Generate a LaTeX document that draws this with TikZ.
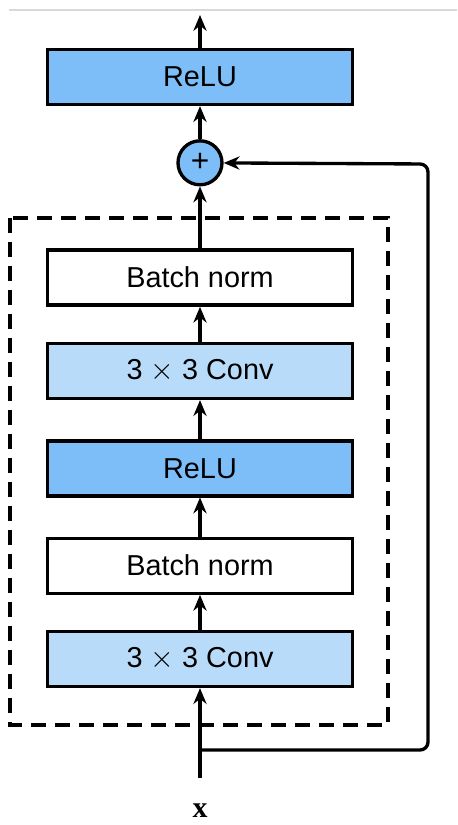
\documentclass[tikz,border=0pt]{standalone}
\usepackage{fontspec}
\setmainfont{Liberation Sans}
\newfontfamily\serifbold{Liberation Serif}
\usetikzlibrary{positioning,arrows.meta}
\definecolor{relublue}{HTML}{7DBEF8}
\definecolor{convblue}{HTML}{B9DBFA}
\tikzset{
  layer/.style={draw, line width=1.9pt, minimum width=6.1cm, minimum height=1.1cm,
    font=\fontsize{16.4}{20}\selectfont},
  conv/.style={layer, fill=convblue},
  relu/.style={layer, fill=relublue},
  norm/.style={layer, fill=white},
  addop/.style={draw, circle, line width=1.9pt, fill=relublue, minimum size=0.88cm,
    inner sep=0pt, font=\fontsize{18}{20}\selectfont},
}
\begin{document}
\begin{tikzpicture}[>={Stealth[length=9pt,width=7.5pt]}, line width=1.9pt]
\useasboundingbox (0,0) rectangle (9.14,-16.5);
\draw[black!15, line width=0.8pt](0.18,-0.2)--(9.14,-0.2);
% residual block
\draw[dash pattern=on 0.3cm off 0.18cm](0.2,-4.36) rectangle (7.76,-14.5);
\node[conv](conv1) at (4,-13.18) {3 $\times$ 3 Conv};
\node[norm, above=0.7cm of conv1](bn1) {Batch norm};
\node[relu, above=0.78cm of bn1](relu1) {ReLU};
\node[conv, above=0.78cm of relu1](conv2) {3 $\times$ 3 Conv};
\node[norm, above=0.7cm of conv2](bn2) {Batch norm};
\node[addop, above=1.24cm of bn2](add) {+};
\node[relu, above=0.66cm of add](relu2) {ReLU};
\coordinate (in) at (4,-15.56);
\coordinate (split) at (4,-15.0);
\coordinate (corner) at (8.56,-3.28);
\coordinate (out) at (4,-0.3);
\node[font=\fontsize{17}{20}\serifbold\bfseries, inner sep=1pt](xin) at (4,-16.22) {x};
\draw[->](in)--(conv1);
\draw[->](conv1)--(bn1);
\draw[->](bn1)--(relu1);
\draw[->](relu1)--(conv2);
\draw[->](conv2)--(bn2);
\draw[->](bn2)--(add);
\draw[->](add)--(relu2);
\draw[->](relu2)--(out);
% shortcut
\draw[->, rounded corners=0.16cm](split)-|(corner)--(add);
\end{tikzpicture}
\end{document}
